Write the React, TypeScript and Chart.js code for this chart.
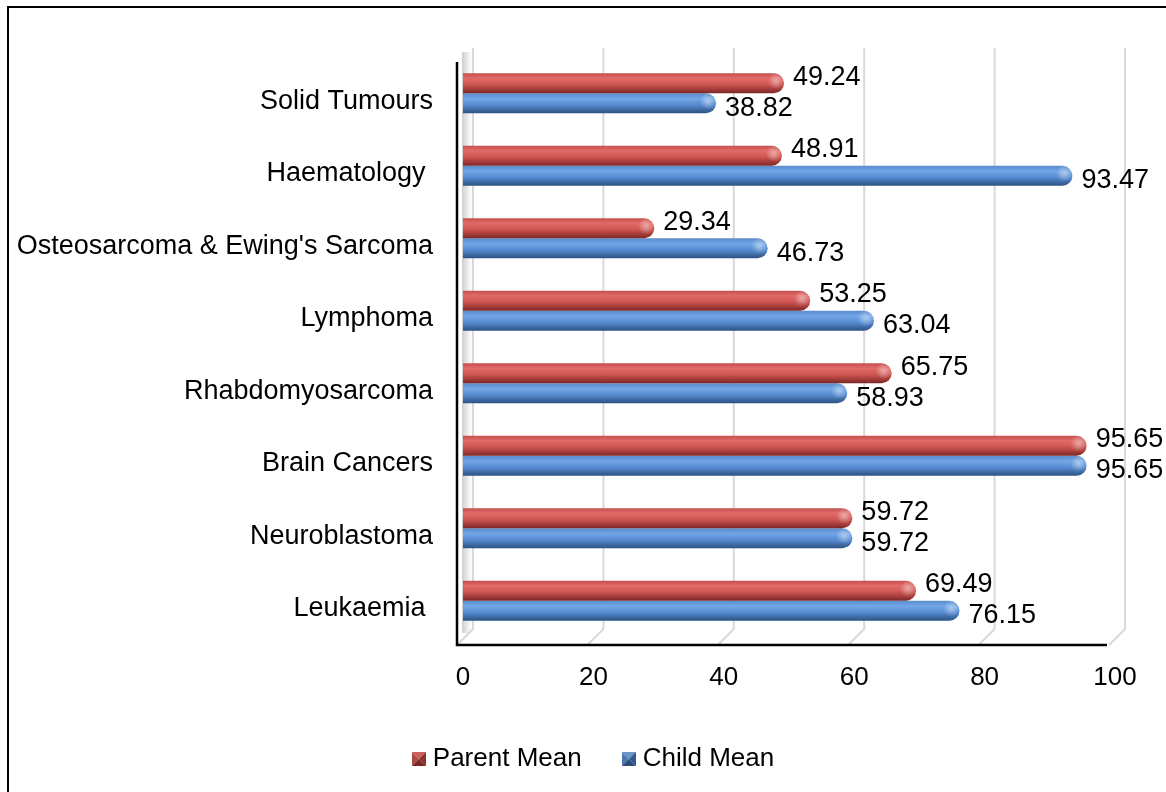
import React, { useEffect, useRef } from 'react';
import { Chart, registerables } from 'chart.js';

Chart.register(...registerables);

const categories = [
  'Solid Tumours',
  'Haematology ',
  "Osteosarcoma & Ewing's Sarcoma",
  'Lymphoma',
  'Rhabdomyosarcoma',
  'Brain Cancers',
  'Neuroblastoma',
  'Leukaemia ',
];
const parentMean = [49.24, 48.91, 29.34, 53.25, 65.75, 95.65, 59.72, 69.49];
const childMean = [38.82, 93.47, 46.73, 63.04, 58.93, 95.65, 59.72, 76.15];
const xTicks = [0, 20, 40, 60, 80, 100];
const seriesNames = ['Parent Mean', 'Child Mean'];

const FONT = "'Liberation Sans', Arial, sans-serif";
const CAT_PCT = 0.55;
const SHIFT = -8;
const LEGEND_SHIFT = 34;

const redStops: [number, string][] = [
  [0, '#c44f4c'],
  [0.25, '#e06b68'],
  [0.55, '#cf5653'],
  [0.82, '#a03a38'],
  [1, '#7a2725'],
];
const blueStops: [number, string][] = [
  [0, '#5a8ccc'],
  [0.28, '#72a6e6'],
  [0.6, '#5589cf'],
  [0.85, '#3b679e'],
  [1, '#2d5283'],
];
// marker facets: [top, left, right, bottom]
const redMarker = ['#c8605c', '#b04744', '#8e3230', '#7a2826'];
const blueMarker = ['#6d95cd', '#4d77b2', '#355b8e', '#2b4c78'];

function makeMarker(f: string[]) {
  const c = document.createElement('canvas');
  c.width = 14;
  c.height = 14;
  const g = c.getContext('2d')!;
  const s = 14;
  const m = 7;
  const tri = (pts: number[][], col: string) => {
    g.fillStyle = col;
    g.beginPath();
    g.moveTo(pts[0][0], pts[0][1]);
    for (let i = 1; i < pts.length; i++) g.lineTo(pts[i][0], pts[i][1]);
    g.closePath();
    g.fill();
  };
  tri([[0, 0], [s, 0], [m, m]], f[0]);
  tri([[0, 0], [m, m], [0, s]], f[1]);
  tri([[s, 0], [s, s], [m, m]], f[2]);
  tri([[0, s], [m, m], [s, s]], f[3]);
  return c;
}

function barGradient(ctx: any, stops: [number, string][], solid: string) {
  const chart = ctx.chart;
  const y = chart.scales && chart.scales.y;
  if (ctx.type !== 'data' || !y || !chart.chartArea) return solid;
  const center = y.getPixelForValue(ctx.dataIndex);
  const band = Math.abs(y.getPixelForValue(1) - y.getPixelForValue(0));
  const th = (band * CAT_PCT) / 2;
  const y0 = center - th + ctx.datasetIndex * th;
  const g = chart.ctx.createLinearGradient(0, y0, 0, y0 + th);
  stops.forEach(([o, c]) => g.addColorStop(o, c));
  return g;
}

const decorPlugin = {
  id: 'decor3d',
  afterLayout(chart: any) {
    const lg = chart.legend;
    if (lg) {
      lg.left += LEGEND_SHIFT;
      lg.right += LEGEND_SHIFT;
    }
  },
  beforeDatasetsDraw(chart: any) {
    const { ctx, chartArea } = chart;
    const x = chart.scales.x;
    const dx = 10;
    const backTop = chartArea.top - 17;
    const backBottom = chartArea.bottom - 16;
    ctx.save();
    const lg = ctx.createLinearGradient(chartArea.left - 2, 0, chartArea.left + 10, 0);
    lg.addColorStop(0, 'rgba(150,150,150,0.55)');
    lg.addColorStop(0.5, 'rgba(190,190,190,0.35)');
    lg.addColorStop(1, 'rgba(230,230,230,0)');
    ctx.fillStyle = lg;
    ctx.fillRect(chartArea.left - 1, backTop + 4, 11, backBottom - backTop);
    ctx.strokeStyle = '#d9d9d9';
    ctx.lineWidth = 2;
    xTicks.forEach((v) => {
      const xf = x.getPixelForValue(v);
      ctx.beginPath();
      ctx.moveTo(xf + dx, backTop);
      ctx.lineTo(xf + dx, backBottom);
      ctx.lineTo(xf - 6, chartArea.bottom);
      ctx.stroke();
    });
    ctx.strokeStyle = '#000';
    ctx.lineWidth = 2.5;
    ctx.beginPath();
    ctx.moveTo(chartArea.left - 6, chartArea.top - 3);
    ctx.lineTo(chartArea.left - 6, chartArea.bottom);
    ctx.lineTo(x.getPixelForValue(100) - 8, chartArea.bottom);
    ctx.stroke();
    ctx.restore();
    ctx.save();
    ctx.translate(0, SHIFT);
  },
  afterDatasetsDraw(chart: any) {
    const { ctx } = chart;
    chart.data.datasets.forEach((ds: any, di: number) => {
      const meta = chart.getDatasetMeta(di);
      meta.data.forEach((el: any, i: number) => {
        const { x, y, height } = el.getProps(['x', 'y', 'height'], true);
        const th = Math.abs(height);
        const hx = x - th * 0.4;
        const hy = y - th * 0.12;
        const rg = ctx.createRadialGradient(hx, hy, 0, hx, hy, th * 0.42);
        rg.addColorStop(0, 'rgba(255,255,255,0.45)');
        rg.addColorStop(1, 'rgba(255,255,255,0)');
        ctx.fillStyle = rg;
        ctx.beginPath();
        ctx.arc(hx, hy, th * 0.42, 0, Math.PI * 2);
        ctx.fill();
        ctx.fillStyle = '#000';
        ctx.font = `27px ${FONT}`;
        ctx.textAlign = 'left';
        ctx.textBaseline = 'middle';
        const v = ds.data[i];
        ctx.fillText(v.toFixed(2), x + 9, y + (di === 0 ? -6 : 5));
      });
    });
    ctx.restore();
  },
};

export default function App() {
  const ref = useRef<HTMLCanvasElement | null>(null);
  useEffect(() => {
    if (!ref.current) return;
    Chart.defaults.font.family = FONT;
    Chart.defaults.color = '#000';
    const markers = [makeMarker(redMarker), makeMarker(blueMarker)];
    const solids = ['#a8403d', '#3f6aa3'];
    const chart = new Chart(ref.current, {
      type: 'bar',
      data: {
        labels: categories,
        datasets: [
          {
            label: seriesNames[0],
            data: parentMean,
            backgroundColor: (c: any) => barGradient(c, redStops, solids[0]),
            borderWidth: 0,
            borderRadius: 10,
            borderSkipped: 'start',
            barPercentage: 1,
            categoryPercentage: CAT_PCT,
          },
          {
            label: seriesNames[1],
            data: childMean,
            backgroundColor: (c: any) => barGradient(c, blueStops, solids[1]),
            borderWidth: 0,
            borderRadius: 10,
            borderSkipped: 'start',
            barPercentage: 1,
            categoryPercentage: CAT_PCT,
          },
        ],
      },
      options: {
        indexAxis: 'y',
        responsive: false,
        animation: false,
        layout: { padding: { top: 57, right: 51, left: 0, bottom: 12 } },
        scales: {
          x: {
            min: 0,
            max: 100,
            grid: { display: false, drawTicks: false },
            border: { display: false },
            ticks: { stepSize: 20, padding: 17, font: { size: 26 }, color: '#000' },
            afterFit: (s: any) => {
              s.height = 55;
            },
          },
          y: {
            grid: { display: false, drawTicks: false },
            border: { display: false },
            ticks: { padding: 30, autoSkip: false, font: { size: 27 }, color: '#000' },
            afterFit: (s: any) => {
              s.width = 454;
            },
          },
        },
        plugins: {
          legend: {
            position: 'bottom',
            maxHeight: 80,
            labels: {
              usePointStyle: true,
              boxWidth: 2,
              boxHeight: 14,
              padding: 46,
              font: { size: 26 },
              color: '#000',
              generateLabels: () =>
                seriesNames.map((n, i) => ({
                  text: n,
                  fillStyle: solids[i],
                  strokeStyle: solids[i],
                  lineWidth: 0,
                  hidden: false,
                  datasetIndex: i,
                  pointStyle: markers[i],
                  fontColor: '#000',
                })),
            },
          },
          tooltip: { enabled: false },
        },
      },
      plugins: [decorPlugin],
    } as any);
    return () => chart.destroy();
  }, []);
  return (
    <div
      style={{
        position: 'absolute',
        left: 7,
        top: 6,
        width: 1159,
        height: 786,
        boxSizing: 'border-box',
        borderLeft: '2px solid #000',
        borderTop: '2px solid #000',
        background: '#fff',
      }}
    >
      <canvas ref={ref} width={1157} height={784} style={{ display: 'block' }} />
    </div>
  );
}
